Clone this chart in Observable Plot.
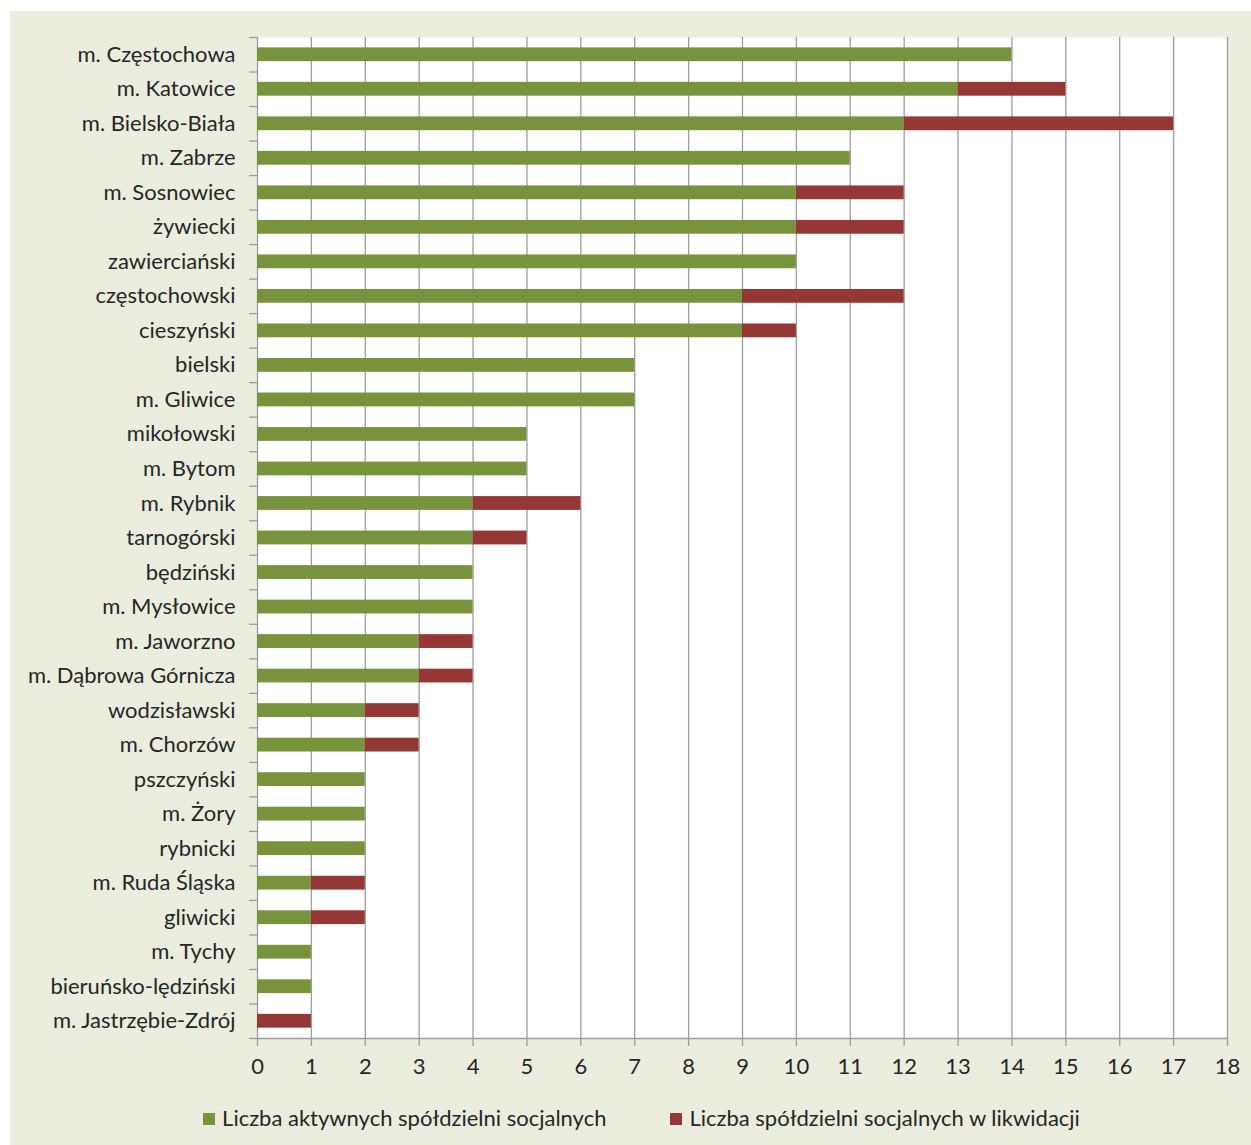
<!DOCTYPE html>
<html>
<head>
<meta charset="utf-8">
<script src="https://cdn.jsdelivr.net/npm/d3@7"></script>
<script src="https://cdn.jsdelivr.net/npm/@observablehq/plot@0.6"></script>
<style>
  html, body { margin: 0; padding: 0; background: #ffffff; }
  #panel {
    position: absolute; left: 10px; top: 11px; width: 1241px; height: 1134px;
    background: #EBEEDE; font-family: Lato, "Open Sans", sans-serif;
  }
  #chart { position: absolute; left: 0; top: 0; }
  #legend {
    position: absolute; left: 0; top: 1093px; width: 1241px;
    display: flex; justify-content: center; gap: 64px;
    font-size: 22px; color: #262626; padding-left: 22px; box-sizing: border-box;
  }
  #legend span.sw { display: inline-block; width: 12px; height: 12px; margin-right: 7px; vertical-align: 1px; }
</style>
</head>
<body>
<div id="panel">
  <div id="chart"></div>
  <div id="legend"></div>
</div>
<script>
const categories = [
  "m. Częstochowa", "m. Katowice", "m. Bielsko-Biała", "m. Zabrze", "m. Sosnowiec",
  "żywiecki", "zawierciański", "częstochowski", "cieszyński", "bielski",
  "m. Gliwice", "mikołowski", "m. Bytom", "m. Rybnik", "tarnogórski",
  "będziński", "m. Mysłowice", "m. Jaworzno", "m. Dąbrowa Górnicza", "wodzisławski",
  "m. Chorzów", "pszczyński", "m. Żory", "rybnicki", "m. Ruda Śląska",
  "gliwicki", "m. Tychy", "bieruńsko-lędziński", "m. Jastrzębie-Zdrój"
];
const active =      [14, 13, 12, 11, 10, 10, 10, 9, 9, 7, 7, 5, 5, 4, 4, 4, 4, 3, 3, 2, 2, 2, 2, 2, 1, 1, 1, 1, 0];
const liquidation = [ 0,  2,  5,  0,  2,  2,  0, 3, 1, 0, 0, 0, 0, 2, 1, 0, 0, 1, 1, 1, 1, 0, 0, 0, 1, 1, 0, 0, 1];
const seriesNames = ["Liczba aktywnych spółdzielni socjalnych", "Liczba spółdzielni socjalnych w likwidacji"];
const seriesColors = ["#77933C", "#953735"];
const xTicks = d3.range(0, 19);

const data = [];
categories.forEach((c, i) => {
  data.push({cat: c, series: seriesNames[0], value: active[i]});
  data.push({cat: c, series: seriesNames[1], value: liquidation[i]});
});

const W = 1241, H = 1090;
const mL = 247, mR = 24, mT = 26, mB = 63;
const plotH = H - mT - mB;
const bandPx = plotH / categories.length;
const tickLenUnits = 8 / ((W - mL - mR) / 18);
const gridColor = "#9C9C9C";

const chart = Plot.plot({
  width: W, height: H,
  marginLeft: mL, marginRight: mR, marginTop: mT, marginBottom: mB,
  style: { background: "transparent", fontFamily: "Lato, 'Open Sans', sans-serif", fontSize: "22px", color: "#262626" },
  x: { domain: [0, 18], label: null },
  y: { domain: categories, paddingInner: 0.6, paddingOuter: 0.3, round: false, label: null },
  color: { domain: seriesNames, range: seriesColors },
  marks: [
    Plot.frame({ fill: "#ffffff", stroke: null }),
    Plot.ruleX(xTicks, { stroke: gridColor, strokeWidth: 1.3 }),
    Plot.barX(data, Plot.stackX({ y: "cat", x: "value", fill: "series", order: seriesNames })),
    Plot.ruleY([categories[categories.length - 1]], { x1: 0, x2: 18, stroke: gridColor, strokeWidth: 1.3, dy: bandPx / 2 }),
    Plot.ruleY(categories, { y: d => d, x1: -tickLenUnits, x2: 0, stroke: gridColor, strokeWidth: 1.3, dy: -bandPx / 2 }),
    Plot.ruleY([categories[categories.length - 1]], { x1: -tickLenUnits, x2: 0, stroke: gridColor, strokeWidth: 1.3, dy: bandPx / 2 }),
    Plot.axisX({ ticks: xTicks, tickFormat: d => d, tickSize: 8, stroke: gridColor, strokeWidth: 1.3, tickPadding: 12, fontSize: 22, label: null }),
    Plot.axisY({ tickSize: 0, tickPadding: 22, fontSize: 22, label: null })
  ]
});
document.getElementById("chart").appendChild(chart);

const legend = document.getElementById("legend");
seriesNames.forEach((n, i) => {
  const d = document.createElement("div");
  d.innerHTML = `<span class="sw" style="background:${seriesColors[i]}"></span>${n}`;
  legend.appendChild(d);
});
</script>
</body>
</html>
